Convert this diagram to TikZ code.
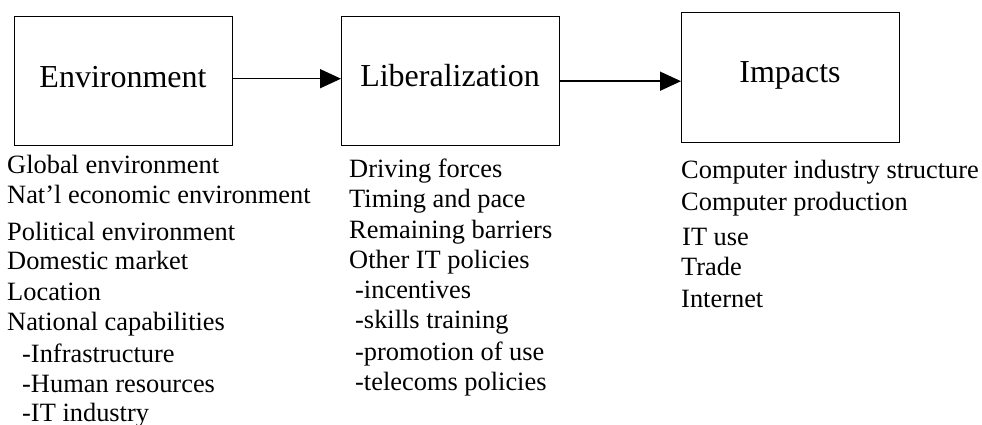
\documentclass[tikz,border=0pt]{standalone}
\usepackage{fontspec}
\setmainfont{Liberation Serif}
\usetikzlibrary{arrows.meta}
\begin{document}
\begin{tikzpicture}[x=1pt,y=-1pt,
  boxnode/.style={draw=black,line width=1.4pt,minimum width=218pt,minimum height=129pt,inner sep=0pt,anchor=north west},
  boxlabel/.style={anchor=base,inner sep=0pt,font=\fontsize{32}{38}\selectfont},
  item/.style={anchor=base west,inner sep=0pt,font=\fontsize{26.4}{30}\selectfont},
  flow/.style={line width=1.6pt,-{Triangle[length=21pt,width=19pt]}}]
\useasboundingbox (0,0) rectangle (982,425);
% boxes
\node[boxnode] (env) at (14,16) {};
\node[boxnode] (lib) at (341,16) {};
\node[boxnode,minimum height=130pt] (imp) at (681,12) {};
\node[boxlabel] (envl) at (123,88) {Environment};
\node[boxlabel] (libl) at (450,87) {Liberalization};
\node[boxlabel] (impl) at (790,83) {Impacts};
% arrows
\draw[flow] ([yshift=2.5pt]env.east) -- ([yshift=2.5pt]lib.west);
\draw[flow] (lib.east) -- (lib.east -| imp.west);
% left list
\node[item] (e1) at (7,173) {Global environment};
\node[item] (e2) at (7,203) {Nat’l economic environment};
\node[item] (e3) at (7,240) {Political environment};
\node[item] (e4) at (7,269) {Domestic market};
\node[item] (e5) at (7,300) {Location};
\node[item] (e6) at (7,330) {National capabilities};
\node[item] (e7) at (22,362) {-Infrastructure};
\node[item] (e8) at (22,392) {-Human resources};
\node[item] (e9) at (22,421) {-IT industry};
% middle list
\node[item] (l1) at (349,177) {Driving forces};
\node[item] (l2) at (349,207) {Timing and pace};
\node[item] (l3) at (349,238) {Remaining barriers};
\node[item] (l4) at (349,268) {Other IT policies};
\node[item] (l5) at (355,298) {-incentives};
\node[item] (l6) at (355,328) {-skills training};
\node[item] (l7) at (355,360) {-promotion of use};
\node[item] (l8) at (355,390) {-telecoms policies};
% right list
\node[item] (i1) at (681,178) {Computer industry structure};
\node[item] (i2) at (681,210) {Computer production};
\node[item] (i3) at (682,245) {IT use};
\node[item] (i4) at (681,275) {Trade};
\node[item] (i5) at (681,307) {Internet};
\end{tikzpicture}
\end{document}
